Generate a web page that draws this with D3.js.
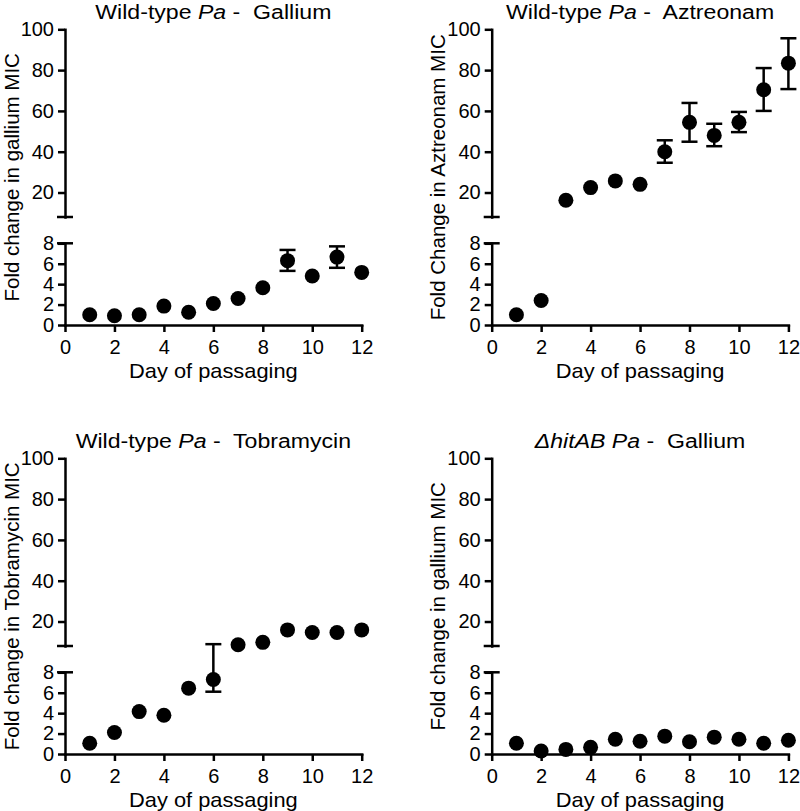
<!DOCTYPE html>
<html><head><meta charset="utf-8">
<script src="https://cdn.jsdelivr.net/npm/d3@7"></script>
<style>
body{margin:0;background:#fff}
svg text{font-family:"Liberation Sans",Arial,Helvetica,sans-serif;fill:#000}
</style>
</head><body>
<svg id="c" width="800" height="811" xmlns="http://www.w3.org/2000/svg"></svg>
<script>
// ---- data ----
const days = [1,2,3,4,5,6,7,8,9,10,11,12];
const xTicks = [0,2,4,6,8,10,12];
const lowerTicks = [0,2,4,6,8];
const upperTicks = [20,40,60,80,100];

const galliumWT   = [1.0,0.9,1.0,1.85,1.25,2.1,2.6,3.65,6.3,4.8,6.65,5.15];
const galliumWTHi = [null,null,null,null,null,null,null,null,7.35,null,7.7,null];
const galliumWTLo = [null,null,null,null,null,null,null,null,5.3,null,5.6,null];

const aztreonamWT   = [1.0,2.4,16.2,22.4,25.7,24.0,40.0,54.4,48.0,54.4,70.4,83.4];
const aztreonamWTHi = [null,null,null,null,null,null,45.6,63.9,53.7,59.5,81.0,95.6];
const aztreonamWTLo = [null,null,null,null,null,null,34.6,44.9,42.7,49.6,60.0,70.7];

const tobramycinWT   = [1.05,2.1,4.15,3.8,6.45,7.3,8.6,9.8,15.9,14.6,14.6,15.9];
const tobramycinWTHi = [null,null,null,null,null,8.9,null,null,null,null,null,null];
const tobramycinWTLo = [null,null,null,null,null,6.1,null,null,null,null,null,null];

const galliumHitAB   = [1.05,0.3,0.45,0.65,1.45,1.25,1.75,1.2,1.65,1.45,1.05,1.35];

const panels = [
  {title:[["Wild-type ",false],["Pa",true],[" -  Gallium",false]], ylabel:"Fold change in gallium MIC",
   v:galliumWT, hi:galliumWTHi, lo:galliumWTLo, col:0, row:0},
  {title:[["Wild-type ",false],["Pa",true],[" -  Aztreonam",false]], ylabel:"Fold Change in Aztreonam MIC",
   v:aztreonamWT, hi:aztreonamWTHi, lo:aztreonamWTLo, col:1, row:0},
  {title:[["Wild-type ",false],["Pa",true],[" -  Tobramycin",false]], ylabel:"Fold change in Tobramycin MIC",
   v:tobramycinWT, hi:tobramycinWTHi, lo:tobramycinWTLo, col:0, row:1},
  {title:[["\u0394hitAB Pa",true],[" -  Gallium",false]], ylabel:"Fold change in gallium MIC",
   v:galliumHitAB, hi:null, lo:null, col:1, row:1}
];

// ---- layout ----
const colLeft = [65, 491.7];
const rowTop = [0, 429];
const plotW = 296.7;
const SW = 2.5;
const FONT = '"Liberation Sans",Arial,sans-serif';

const svg = d3.select("#c");

panels.forEach(p => {
  const L = colLeft[p.col], T = rowTop[p.row];
  const g = svg.append("g");
  const x = d3.scaleLinear().domain([0,12]).range([L, L+plotW]);
  const lower = d3.scaleLinear().domain([0,8]).range([T+325, T+243.3]);
  const upper = d3.scaleLinear().domain([8,100]).range([T+217, T+29.3]);
  const y = v => v <= 8 ? lower(v) : upper(v);

  function style(sel){
    sel.select(".domain").attr("stroke","#000").attr("stroke-width",SW).attr("stroke-linecap","square");
    sel.selectAll(".tick line").attr("stroke","#000").attr("stroke-width",SW);
    sel.selectAll(".tick text").attr("font-size",20).attr("fill","#000").style("font-family",FONT);
  }

  // x axis
  g.append("g").attr("transform",`translate(0,${T+325})`)
    .call(d3.axisBottom(x).tickValues(xTicks).tickSize(7).tickSizeOuter(0).tickPadding(7.5))
    .call(style);
  // lower y axis
  g.append("g").attr("transform",`translate(${L},0)`)
    .call(d3.axisLeft(lower).tickValues(lowerTicks).tickSize(7).tickSizeOuter(0).tickPadding(4))
    .call(style);
  // upper y axis
  g.append("g").attr("transform",`translate(${L},0)`)
    .call(d3.axisLeft(upper).tickValues(upperTicks).tickSize(7).tickSizeOuter(0).tickPadding(4))
    .call(style);
  // break marks
  [lower(8), upper(8)].forEach(yy => {
    g.append("line").attr("x1",L-8).attr("x2",L+8).attr("y1",yy).attr("y2",yy)
      .attr("stroke","#000").attr("stroke-width",SW);
  });

  // error bars
  if (p.hi) {
    const eb = days.map((d,i)=>({d, hi:p.hi[i], lo:p.lo[i]})).filter(e=>e.hi!=null);
    const cap = 8;
    eb.forEach(e => {
      const cx = x(e.d);
      g.append("line").attr("x1",cx).attr("x2",cx).attr("y1",y(e.lo)).attr("y2",y(e.hi))
        .attr("stroke","#000").attr("stroke-width",SW);
      [e.lo,e.hi].forEach(v => g.append("line").attr("x1",cx-cap).attr("x2",cx+cap)
        .attr("y1",y(v)).attr("y2",y(v)).attr("stroke","#000").attr("stroke-width",SW));
    });
  }

  // points
  g.selectAll("circle.pt").data(days.map((d,i)=>({d,v:p.v[i]}))).join("circle")
    .attr("class","pt").attr("cx",d=>x(d.d)).attr("cy",d=>y(d.v)).attr("r",7.5).attr("fill","#000");

  // title (slightly widened like the reference lettering)
  const cx = L+plotW/2;
  const t = g.append("text").attr("transform",`translate(${cx},${T+19}) scale(1.1,1)`)
    .attr("text-anchor","middle").attr("font-size",21)
    .attr("xml:space","preserve").style("white-space","pre");
  p.title.forEach(([s,it]) => t.append("tspan").text(s).attr("font-style", it?"italic":"normal"));

  // x label
  g.append("text").attr("transform",`translate(${cx},${T+377.5}) scale(1.04,1)`)
    .attr("text-anchor","middle").attr("font-size",21).text("Day of passaging");
  // y label
  g.append("text").attr("transform",`translate(${L-46.5},${T+177.3}) rotate(-90)`)
    .attr("text-anchor","middle").attr("font-size",20.5).text(p.ylabel);
});
</script>
</body></html>
